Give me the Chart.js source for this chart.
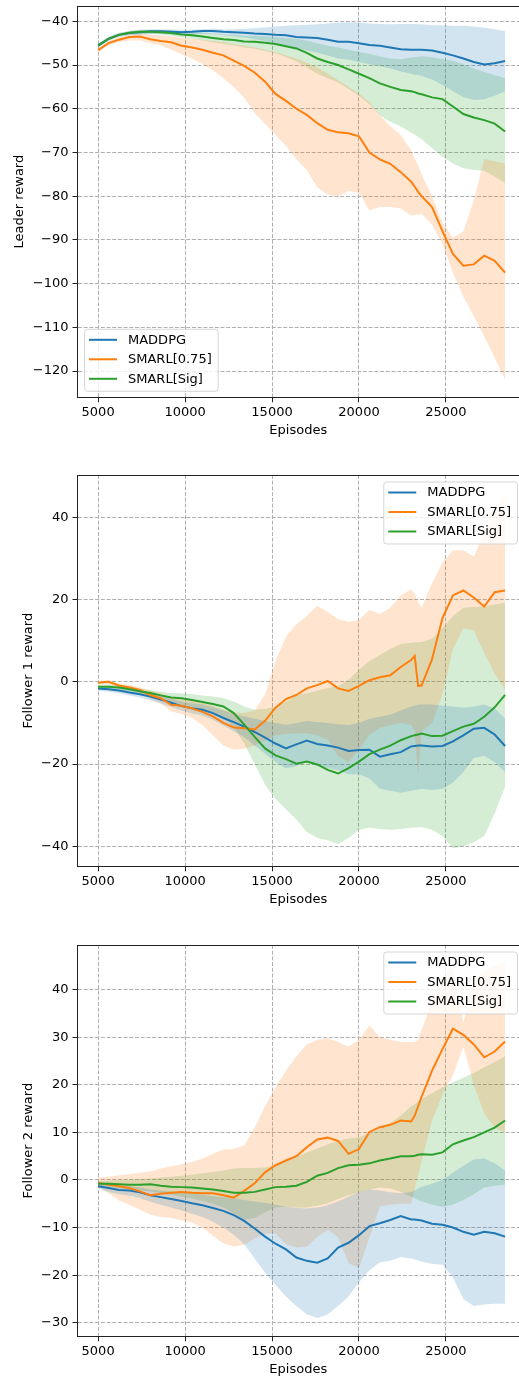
<!DOCTYPE html>
<html>
<head>
<meta charset="utf-8">
<script src="https://cdn.jsdelivr.net/npm/chart.js@4.4.1/dist/chart.umd.min.js"></script>
<style>
  html, body { margin: 0; padding: 0; background: #fff; overflow: hidden; }
  .panel { position: absolute; left: 0; width: 519px; height: 442px; }
</style>
</head>
<body>
<div class="panel" style="top:0px"><canvas id="leader"></canvas></div>
<div class="panel" style="top:469px"><canvas id="follower1"></canvas></div>
<div class="panel" style="top:939px"><canvas id="follower2"></canvas></div>
<script>
// episode checkpoints shared by all three plots
const episodes = [5000, 5600, 6200, 6800, 7400, 8000, 8600, 9200, 9800, 10400, 11000, 11600, 12200, 12800, 13400, 14000, 14600, 15200, 15800, 16400, 17000, 17600, 18200, 18800, 19400, 20000, 20600, 21200, 21800, 22400, 23000, 23200, 23400, 23600, 24200, 24800, 25400, 26000, 26600, 27200, 27800, 28400];
const xTicks = [5000, 10000, 15000, 20000, 25000];

// leader reward
const leaderTicks = [-120, -110, -100, -90, -80, -70, -60, -50, -40];
const leaderMaddpg = [-45.5, -44.0, -43.1, -42.7, -42.5, -42.3, -42.3, -42.4, -42.5, -42.4, -42.2, -42.2, -42.4, -42.5, -42.6, -42.8, -42.9, -43.1, -43.2, -43.6, -43.7, -43.8, -44.2, -44.7, -44.7, -45.0, -45.4, -45.6, -46.0, -46.4, -46.5, -46.5, -46.5, -46.5, -46.7, -47.2, -47.8, -48.5, -49.3, -49.9, -49.6, -49.1];
const leaderMaddpgHi = [-45.0, -43.6, -42.7, -42.2, -41.9, -41.8, -41.8, -41.9, -42.0, -41.9, -41.8, -41.7, -41.8, -41.8, -41.7, -41.6, -41.4, -41.2, -41.0, -40.9, -40.8, -40.7, -40.5, -40.3, -40.2, -40.3, -40.5, -40.6, -40.7, -40.6, -40.6, -40.6, -40.7, -40.7, -40.9, -40.9, -41.0, -41.0, -41.2, -41.5, -41.8, -42.2];
const leaderMaddpgLo = [-46.0, -44.4, -43.5, -43.2, -43.1, -42.9, -42.9, -43.0, -43.1, -43.0, -42.9, -42.9, -43.2, -43.4, -43.7, -44.1, -44.5, -45.0, -45.5, -46.2, -46.7, -47.2, -47.8, -48.5, -48.8, -49.3, -49.8, -50.2, -50.8, -51.5, -52.0, -52.2, -52.3, -52.5, -53.3, -54.5, -56.0, -57.3, -58.0, -57.8, -57.0, -56.0];
const leaderFixed = [-46.6, -45.0, -44.2, -43.6, -43.5, -44.1, -44.5, -44.8, -45.6, -46.0, -46.5, -47.2, -47.8, -49.0, -50.2, -51.7, -53.8, -56.6, -58.2, -60.0, -61.4, -63.3, -64.8, -65.4, -65.6, -66.3, -70.0, -71.6, -72.6, -74.5, -76.7, -77.8, -79.0, -80.0, -82.5, -88.0, -93.2, -95.9, -95.6, -93.6, -94.8, -97.5];
const leaderFixedHi = [-46.2, -44.5, -43.6, -43.0, -42.8, -43.0, -43.2, -43.4, -43.8, -44.0, -44.2, -44.5, -44.8, -45.2, -45.6, -46.0, -46.5, -47.0, -47.8, -48.5, -49.5, -50.5, -52.0, -53.5, -55.0, -56.5, -58.5, -61.5, -64.0, -66.0, -69.5, -71.3, -73.0, -75.0, -80.0, -86.0, -89.5, -88.0, -81.0, -71.5, -72.0, -72.5];
const leaderFixedLo = [-47.0, -45.5, -44.8, -44.4, -44.4, -45.0, -45.5, -46.5, -47.5, -48.5, -49.8, -51.2, -53.0, -55.0, -57.5, -61.0, -63.5, -66.0, -68.5, -71.5, -74.0, -78.0, -79.7, -80.0, -78.8, -79.2, -83.3, -82.5, -82.5, -82.8, -84.5, -84.3, -84.2, -84.0, -86.5, -91.0, -97.5, -103.0, -107.5, -112.0, -117.0, -122.0];
const leaderSig = [-45.6, -44.0, -43.1, -42.6, -42.4, -42.4, -42.5, -42.7, -43.0, -43.2, -43.5, -43.8, -44.1, -44.3, -44.6, -44.7, -44.9, -45.2, -45.7, -46.2, -47.2, -48.5, -49.3, -50.0, -51.0, -52.0, -53.0, -54.2, -55.0, -55.7, -56.0, -56.2, -56.5, -56.7, -57.4, -57.8, -59.5, -61.2, -62.0, -62.6, -63.4, -65.2];
const leaderSigHi = [-45.2, -43.6, -42.7, -42.2, -42.0, -42.0, -42.0, -42.1, -42.3, -42.4, -42.6, -42.8, -43.0, -43.1, -43.3, -43.3, -43.4, -43.6, -43.8, -44.0, -44.4, -45.0, -45.6, -46.0, -46.5, -47.0, -47.5, -48.0, -48.5, -48.7, -48.3, -48.2, -48.1, -48.0, -48.2, -48.6, -49.0, -49.8, -50.8, -51.6, -52.3, -53.0];
const leaderSigLo = [-46.0, -44.4, -43.5, -43.0, -42.9, -42.9, -43.0, -43.3, -43.7, -44.0, -44.4, -44.8, -45.2, -45.5, -46.0, -46.3, -46.8, -47.3, -48.2, -49.2, -50.5, -52.0, -53.0, -54.0, -55.5, -57.0, -59.0, -61.5, -63.0, -64.0, -65.5, -65.9, -66.5, -67.0, -69.0, -71.0, -72.5, -73.6, -74.0, -74.2, -75.5, -77.0];

// follower 1 reward
const f1Ticks = [-40, -20, 0, 20, 40];
const f1Maddpg = [-1.6, -1.8, -2.1, -2.6, -3.0, -3.6, -4.3, -5.1, -5.9, -6.4, -6.8, -7.6, -8.8, -9.8, -10.9, -12.2, -13.6, -15.0, -16.2, -15.2, -14.3, -15.1, -15.5, -16.0, -16.8, -16.6, -16.5, -18.2, -17.6, -17.1, -15.7, -15.6, -15.5, -15.5, -15.7, -15.6, -14.5, -13.0, -11.4, -11.2, -12.8, -15.6];
const f1MaddpgHi = [-1.0, -1.2, -1.5, -2.0, -2.3, -2.8, -3.4, -4.1, -4.8, -5.2, -5.5, -6.2, -7.0, -7.8, -8.4, -9.0, -9.5, -10.0, -10.5, -10.0, -9.5, -9.8, -10.0, -10.3, -10.5, -10.0, -9.0, -8.5, -8.0, -7.0, -6.0, -5.8, -5.6, -5.5, -5.5, -5.8, -6.0, -6.3, -6.0, -5.5, -6.5, -9.0];
const f1MaddpgLo = [-2.2, -2.4, -2.8, -3.3, -3.8, -4.5, -5.3, -6.1, -7.0, -7.7, -8.2, -9.2, -10.6, -12.0, -13.5, -15.5, -17.5, -19.5, -21.0, -20.5, -19.5, -20.5, -21.0, -21.5, -22.5, -22.5, -23.5, -26.0, -26.5, -27.0, -26.5, -26.3, -26.2, -26.0, -26.3, -26.0, -24.5, -22.0, -18.5, -18.0, -19.5, -22.0];
const f1Fixed = [-0.2, 0.0, -0.9, -1.4, -2.0, -3.2, -4.0, -5.6, -5.8, -6.5, -7.3, -8.4, -10.0, -11.1, -11.3, -11.6, -9.5, -6.3, -4.2, -3.2, -1.6, -0.8, 0.2, -1.6, -2.2, -1.0, 0.4, 1.1, 1.6, 3.6, 5.3, 6.3, -1.0, -0.9, 5.5, 15.5, 21.0, 22.2, 20.5, 18.3, 21.8, 22.2];
const f1FixedHi = [0.2, 0.4, -0.4, -0.8, -1.3, -2.2, -2.8, -3.8, -4.0, -4.5, -5.0, -5.8, -6.8, -7.5, -7.6, -7.0, -3.0, 5.0, 11.0, 14.0, 16.0, 18.5, 17.0, 15.2, 14.6, 15.0, 17.5, 16.5, 18.0, 21.0, 22.5, 21.5, 19.5, 18.0, 24.0, 29.0, 32.0, 32.0, 30.5, 36.0, 41.0, 46.0];
const f1FixedLo = [-0.6, -0.5, -1.4, -2.0, -2.7, -4.2, -5.3, -7.2, -7.8, -8.8, -10.5, -13.0, -15.5, -16.5, -16.3, -15.5, -14.2, -13.0, -12.6, -12.5, -12.5, -13.0, -14.0, -18.0, -19.5, -16.5, -12.8, -11.2, -10.5, -10.0, -10.5, -12.0, -22.5, -12.0, -10.0, -3.0, 8.0, 13.0, 12.5, 7.0, 2.0, -2.0];
const f1Sig = [-1.2, -1.2, -1.4, -1.8, -2.3, -2.7, -3.3, -3.8, -4.0, -4.4, -4.9, -5.4, -6.0, -7.6, -10.4, -13.4, -16.2, -17.9, -18.8, -19.9, -19.4, -20.1, -21.4, -22.3, -21.0, -19.4, -17.6, -16.5, -15.5, -14.2, -13.2, -13.0, -12.8, -12.6, -13.2, -13.1, -12.0, -10.9, -10.2, -8.5, -6.2, -3.2];
const f1SigHi = [-0.7, -0.6, -0.8, -1.2, -1.6, -2.0, -2.4, -2.7, -2.8, -3.0, -3.3, -3.6, -4.0, -4.8, -6.0, -6.8, -6.6, -6.0, -4.8, -3.2, -2.8, -2.2, -1.5, -1.0, 0.5, 3.0, 5.0, 6.5, 8.0, 9.2, 9.5, 9.6, 9.6, 9.7, 10.5, 13.0, 16.0, 18.0, 18.2, 18.3, 18.8, 19.2];
const f1SigLo = [-1.8, -1.9, -2.2, -2.6, -3.1, -3.6, -4.3, -5.0, -5.5, -6.0, -6.7, -7.5, -8.6, -11.0, -15.0, -20.0, -25.0, -28.5, -31.0, -33.5, -36.5, -38.0, -38.5, -39.5, -38.0, -36.0, -35.5, -35.8, -36.0, -35.8, -35.5, -35.4, -35.4, -35.3, -36.0, -37.5, -40.5, -40.0, -39.0, -37.5, -32.0, -25.5];

// follower 2 reward
const f2Ticks = [-30, -20, -10, 0, 10, 20, 30, 40];
const f2Maddpg = [-1.3, -1.7, -2.1, -2.2, -2.6, -3.2, -3.6, -4.0, -4.4, -4.9, -5.3, -5.9, -6.5, -7.4, -8.6, -10.2, -11.9, -13.4, -14.6, -16.3, -17.0, -17.4, -16.5, -14.2, -13.2, -11.6, -9.7, -9.1, -8.4, -7.6, -8.3, -8.3, -8.4, -8.5, -9.2, -9.4, -10.0, -10.9, -11.5, -10.9, -11.2, -11.9];
const f2MaddpgHi = [-0.8, -1.0, -1.2, -1.3, -1.6, -2.0, -2.2, -2.4, -2.6, -2.9, -3.1, -3.4, -3.6, -3.9, -4.2, -4.5, -4.8, -5.2, -5.6, -5.9, -6.0, -5.8, -5.3, -4.5, -3.5, -2.5, -2.0, -2.2, -2.6, -2.8, -2.5, -2.2, -1.8, -1.5, -0.8, 0.0, 1.5, 3.0, 4.3, 4.5, 3.5, 2.0];
const f2MaddpgLo = [-1.8, -2.5, -3.0, -3.3, -3.8, -4.6, -5.2, -5.8, -6.4, -7.1, -7.8, -8.8, -10.0, -11.5, -13.5, -16.5, -19.5, -22.0, -24.5, -26.5, -28.2, -29.0, -28.3, -26.5, -24.5, -21.5, -19.0, -17.3, -17.0, -16.2, -16.5, -16.7, -16.9, -17.2, -17.6, -17.8, -20.5, -25.0, -26.5, -26.2, -26.0, -26.0];
const f2Fixed = [-0.6, -1.0, -1.3, -1.7, -2.4, -3.2, -2.9, -2.7, -2.5, -2.7, -2.8, -2.8, -3.2, -3.7, -2.3, -0.7, 1.6, 3.1, 4.1, 5.0, 6.9, 8.5, 8.9, 8.2, 5.5, 6.5, 10.1, 11.1, 11.6, 12.5, 12.3, 13.5, 15.5, 17.5, 23.0, 27.5, 31.8, 30.5, 28.5, 25.8, 27.0, 29.1];
const f2FixedHi = [0.5, 0.7, 1.0, 1.2, 1.5, 1.8, 2.4, 2.9, 3.3, 3.8, 4.5, 5.5, 6.4, 6.5, 7.3, 11.0, 15.5, 19.5, 23.0, 26.0, 28.5, 29.5, 29.8, 29.0, 28.0, 29.5, 32.5, 30.0, 29.5, 29.0, 29.0, 29.0, 29.5, 31.5, 37.5, 43.0, 45.0, 33.0, 41.5, 44.0, 45.0, 46.0];
const f2FixedLo = [-1.5, -2.8, -4.3, -5.2, -6.2, -7.3, -7.8, -8.0, -8.5, -9.0, -10.0, -11.8, -13.3, -14.0, -13.6, -12.3, -11.3, -11.2, -13.5, -14.2, -14.0, -12.0, -10.5, -12.0, -17.5, -18.5, -12.0, -5.5, -5.2, -5.0, -5.0, -2.0, 1.0, 4.0, 12.5, 18.0, 22.0, 28.0, 20.0, 14.0, 11.0, 10.0];
const f2Sig = [-0.8, -0.8, -0.9, -1.0, -1.0, -0.9, -1.2, -1.4, -1.5, -1.6, -1.8, -2.0, -2.3, -2.7, -2.7, -2.5, -2.0, -1.5, -1.4, -1.2, -0.4, 0.9, 1.5, 2.5, 3.1, 3.2, 3.5, 4.1, 4.5, 5.0, 5.0, 5.1, 5.3, 5.4, 5.3, 5.8, 7.5, 8.3, 9.0, 10.0, 11.0, 12.5];
const f2SigHi = [-0.2, -0.1, 0.0, 0.1, 0.2, 0.3, 0.5, 0.7, 0.9, 1.1, 1.4, 1.7, 2.0, 2.4, 2.5, 2.5, 2.6, 3.0, 4.0, 5.0, 5.8, 6.6, 7.5, 8.2, 8.7, 9.0, 9.8, 10.8, 12.0, 13.5, 15.5, 16.0, 16.5, 17.0, 18.3, 19.5, 20.5, 21.5, 22.5, 23.7, 24.8, 26.0];
const f2SigLo = [-1.4, -1.5, -1.8, -2.0, -2.2, -2.4, -2.8, -3.1, -3.5, -3.9, -4.4, -5.0, -5.8, -7.0, -8.3, -8.0, -6.8, -5.8, -5.6, -5.8, -5.8, -5.4, -4.9, -4.0, -3.2, -2.6, -2.0, -1.6, -1.8, -2.5, -3.5, -3.8, -4.2, -4.5, -5.2, -5.6, -5.2, -4.2, -3.0, -1.6, -1.2, -1.0];

const BLUE = '#1f77b4', ORANGE = '#ff7f0e', GREEN = '#2ca02c';

Chart.defaults.font.family = "'DejaVu Sans', sans-serif";
Chart.defaults.font.size = 13;
Chart.defaults.color = '#000';
Chart.defaults.animation = false;

function bandColor(hex, a) {
  const n = parseInt(hex.slice(1), 16);
  return `rgba(${n >> 16}, ${(n >> 8) & 255}, ${n & 255}, ${a})`;
}

const points = arr => episodes.map((x, i) => ({ x, y: arr[i] }));
const signed = v => (v < 0 ? '\u2212' + Math.abs(v) : String(v));

// top frame line (the right one falls outside the canvas)
const topSpine = {
  id: 'topSpine',
  afterDatasetsDraw(chart) {
    const { ctx, chartArea } = chart;
    ctx.save();
    ctx.strokeStyle = '#222';
    ctx.lineWidth = 1;
    ctx.beginPath();
    ctx.moveTo(chartArea.left - 0.5, chartArea.top + 0.5);
    ctx.lineTo(chartArea.right, chartArea.top + 0.5);
    ctx.stroke();
    ctx.restore();
  }
};

// framed legend inside the plot area
const boxLegend = {
  id: 'boxLegend',
  afterDraw(chart, args, opts) {
    const { ctx, chartArea } = chart;
    const items = chart.data.datasets.filter(d => d.inLegend);
    ctx.save();
    ctx.font = "13px 'DejaVu Sans'";
    const textW = Math.max(...items.map(d => ctx.measureText(d.label).width));
    const w = 44 + textW + 6, h = 62;
    let x, y;
    if (opts.corner === 'lowerleft') {
      x = chartArea.left + 6.5;
      y = chartArea.bottom - 6.5 - h;
    } else {
      x = chartArea.right - 2 - w;
      y = chartArea.top + 6.5;
    }
    ctx.beginPath();
    if (ctx.roundRect) ctx.roundRect(x + 0.5, y + 0.5, w, h, 3);
    else ctx.rect(x + 0.5, y + 0.5, w, h);
    ctx.fillStyle = 'rgba(255,255,255,0.8)';
    ctx.fill();
    ctx.strokeStyle = 'rgba(204,204,204,0.8)';
    ctx.lineWidth = 1;
    ctx.stroke();
    ctx.textBaseline = 'middle';
    ctx.textAlign = 'left';
    items.forEach((d, i) => {
      const ly = y + 11 + i * 19.5;
      ctx.strokeStyle = d.borderColor;
      ctx.lineWidth = 2;
      ctx.beginPath();
      ctx.moveTo(x + 5, ly);
      ctx.lineTo(x + 33, ly);
      ctx.stroke();
      ctx.fillStyle = '#000';
      ctx.fillText(d.label, x + 44, ly + 0.5);
    });
    ctx.restore();
  }
};

function gridOpts() {
  return { color: '#b0b0b0', lineWidth: 1, tickLength: 5, tickColor: '#222', tickWidth: 1, tickBorderDash: [] };
}

function makePanel(id, cfg) {
  const datasets = [];
  cfg.series.forEach(s => {
    datasets.push({ data: points(s.lo), borderColor: 'transparent', borderWidth: 0, pointRadius: 0, fill: false, order: 10 });
    datasets.push({ data: points(s.hi), borderColor: 'transparent', borderWidth: 0, pointRadius: 0,
      fill: '-1', backgroundColor: bandColor(s.color, 0.2), order: 10 });
  });
  cfg.series.forEach((s, i) => {
    datasets.push({ label: s.label, data: points(s.mean), borderColor: s.color, borderWidth: 2,
      pointRadius: 0, fill: false, tension: 0, order: cfg.series.length - i, inLegend: true });
  });

  new Chart(document.getElementById(id), {
    type: 'line',
    data: { datasets },
    options: {
      responsive: true,
      maintainAspectRatio: false,
      events: [],
      layout: { padding: { top: 6, left: 0, right: 0, bottom: 0 } },
      scales: {
        x: {
          type: 'linear',
          min: 3815,
          max: 29200,
          afterBuildTicks: s => { s.ticks = xTicks.map(v => ({ value: v })); },
          afterFit: s => { s.height = 44.7; s.paddingLeft = 0; s.paddingRight = 0; },
          ticks: { callback: v => String(v), maxRotation: 0, autoSkip: false, padding: 3 },
          grid: gridOpts(),
          border: { color: '#222', width: 1, dash: [4, 1.7] },
          title: { display: true, text: 'Episodes', padding: { top: 0, bottom: 4 } }
        },
        y: {
          min: cfg.yMin,
          max: cfg.yMax,
          afterBuildTicks: s => { s.ticks = cfg.yTicks.map(v => ({ value: v })); },
          afterFit: s => { s.width = 77.5; s.paddingTop = 0; s.paddingBottom = 0; },
          ticks: { callback: signed, padding: 4 },
          grid: gridOpts(),
          border: { color: '#222', width: 1, dash: [4, 1.7] },
          title: { display: true, text: cfg.yTitle, padding: { top: cfg.titlePad, bottom: 0 } }
        }
      },
      plugins: {
        legend: { display: false },
        tooltip: { enabled: false },
        boxLegend: { corner: cfg.corner }
      }
    },
    plugins: [topSpine, boxLegend]
  });
}

makePanel('leader', {
  yTitle: 'Leader reward', yTicks: leaderTicks, yMin: -126.0, yMax: -36.5, titlePad: 12, corner: 'lowerleft',
  series: [
    { label: 'MADDPG', color: BLUE, mean: leaderMaddpg, lo: leaderMaddpgLo, hi: leaderMaddpgHi },
    { label: 'SMARL[0.75]', color: ORANGE, mean: leaderFixed, lo: leaderFixedLo, hi: leaderFixedHi },
    { label: 'SMARL[Sig]', color: GREEN, mean: leaderSig, lo: leaderSigLo, hi: leaderSigHi }
  ]
});

makePanel('follower1', {
  yTitle: 'Follower 1 reward', yTicks: f1Ticks, yMin: -44.86, yMax: 50.29, titlePad: 20.5, corner: 'upperright',
  series: [
    { label: 'MADDPG', color: BLUE, mean: f1Maddpg, lo: f1MaddpgLo, hi: f1MaddpgHi },
    { label: 'SMARL[0.75]', color: ORANGE, mean: f1Fixed, lo: f1FixedLo, hi: f1FixedHi },
    { label: 'SMARL[Sig]', color: GREEN, mean: f1Sig, lo: f1SigLo, hi: f1SigHi }
  ]
});

makePanel('follower2', {
  yTitle: 'Follower 2 reward', yTicks: f2Ticks, yMin: -32.86, yMax: 49.4, titlePad: 20.5, corner: 'upperright',
  series: [
    { label: 'MADDPG', color: BLUE, mean: f2Maddpg, lo: f2MaddpgLo, hi: f2MaddpgHi },
    { label: 'SMARL[0.75]', color: ORANGE, mean: f2Fixed, lo: f2FixedLo, hi: f2FixedHi },
    { label: 'SMARL[Sig]', color: GREEN, mean: f2Sig, lo: f2SigLo, hi: f2SigHi }
  ]
});
</script>
</body>
</html>
